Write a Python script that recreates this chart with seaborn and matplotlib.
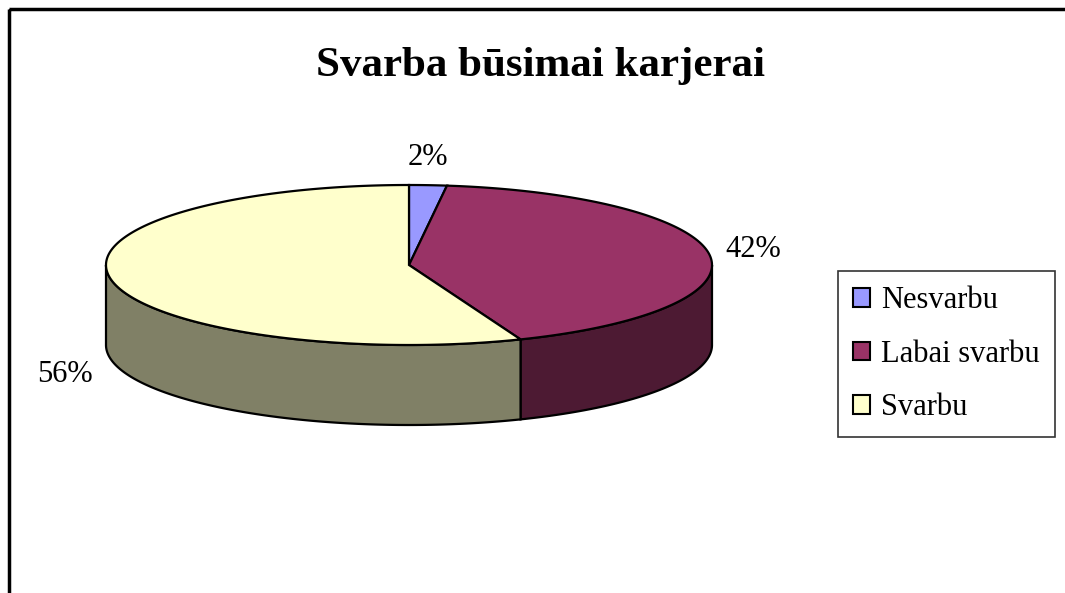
import numpy as np
import matplotlib
matplotlib.use("Agg")
import matplotlib.pyplot as plt
from matplotlib.patches import Polygon, Rectangle
import seaborn as sns

# ---------------------------
# Data
# ---------------------------
title = "Svarba būsimai karjerai"
categories = ["Nesvarbu", "Labai svarbu", "Svarbu"]
shares = [2, 42, 56]
top_colors = ["#9999FF", "#993366", "#FFFFCC"]

# ---------------------------
# Style
# ---------------------------
sns.set_style("white")
plt.rcParams["font.family"] = ["Liberation Serif", "DejaVu Serif"]
plt.rcParams["text.color"] = "black"
side_colors = [tuple(c * 0.5 for c in col) for col in sns.color_palette(top_colors)]

# pie geometry (pixel space)
cx, cy = 409, 265
rx, ry = 303, 80
depth = 80
label_offsets = [(0, -28), (44, -5), (-46, 95)]

fig = plt.figure(figsize=(10.65, 5.93), dpi=100)
ax = fig.add_axes([0, 0, 1, 1])
ax.set_xlim(0, 1065)
ax.set_ylim(593, 0)
ax.axis("off")

# outer chart border
ax.add_patch(Rectangle((8.5, 8.5), 1200, 800, fill=False, lw=2.5, ec="black"))


def pt(theta_deg):
    t = np.radians(theta_deg)
    return cx + rx * np.sin(t), cy - ry * np.cos(t)


# cumulative angles, clockwise from 12 o'clock
fracs = np.array(shares) / sum(shares)
edges = np.concatenate([[0], np.cumsum(fracs) * 360])

# ---------------------------
# Sides (front half only: 90..270 deg)
# ---------------------------
for i in range(len(shares)):
    a0, a1 = max(edges[i], 90), min(edges[i + 1], 270)
    if a1 <= a0:
        continue
    th = np.linspace(a0, a1, 200)
    xs, ys = pt(th)
    poly = np.column_stack([np.concatenate([xs, xs[::-1]]),
                            np.concatenate([ys, ys[::-1] + depth])])
    ax.add_patch(Polygon(poly, closed=True, fc=side_colors[i], ec="black", lw=1.6, zorder=2))

# ---------------------------
# Top faces
# ---------------------------
for i in range(len(shares)):
    th = np.linspace(edges[i], edges[i + 1], 300)
    xs, ys = pt(th)
    poly = np.column_stack([np.concatenate([[cx], xs]), np.concatenate([[cy], ys])])
    ax.add_patch(Polygon(poly, closed=True, fc=top_colors[i], ec="black", lw=1.6, zorder=3))

# ---------------------------
# Percentage labels
# ---------------------------
for i, val in enumerate(shares):
    mid = (edges[i] + edges[i + 1]) / 2
    x, y = pt(mid)
    dx, dy = label_offsets[i]
    ax.text(x + dx, y + dy, f"{val}%", fontsize=22, ha="center", va="center", zorder=4)

# ---------------------------
# Title
# ---------------------------
ax.text(541, 66, title, fontsize=31, fontweight="bold", ha="center", va="center")

# ---------------------------
# Legend
# ---------------------------
handles = [Rectangle((0, 0), 1, 1, fc=c, ec="black", lw=1.5) for c in top_colors]
leg = ax.legend(handles, categories, loc="upper left", bbox_to_anchor=(838 / 1065, 1 - 271 / 593),
                fontsize=22, frameon=True, fancybox=False, edgecolor="black",
                handlelength=0.55, handleheight=0.55, handletextpad=0.35,
                labelspacing=0.8, borderpad=0.5, borderaxespad=0)
leg.get_frame().set_linewidth(1.2)
for t in leg.get_texts():
    t.set_color("black")

fig.savefig("out.png", dpi=100)
